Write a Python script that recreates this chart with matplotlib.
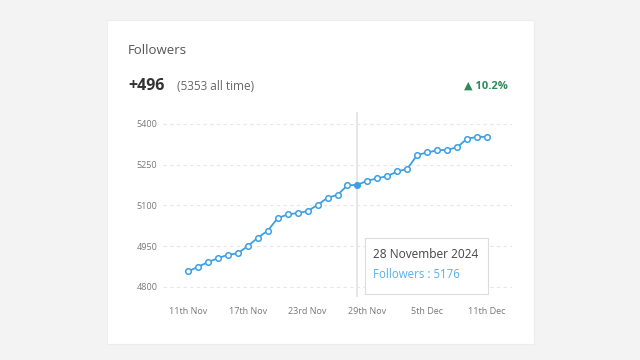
import numpy as np
import pandas as pd
from matplotlib import pyplot as plt
from matplotlib.patches import FancyBboxPatch

plt.rcParams['font.family'] = ['Open Sans', 'DejaVu Sans']

# Data (11 Nov - 11 Dec 2024)
dates = pd.date_range('2024-11-11', '2024-12-11', freq='D')
followers = [4857, 4874, 4891, 4906, 4918, 4924, 4950, 4981, 5007, 5053,
             5067, 5072, 5079, 5102, 5128, 5139, 5174, 5176, 5191, 5200,
             5208, 5225, 5235, 5286, 5295, 5303, 5305, 5314, 5346, 5352, 5353]
y_ticks = [4800, 4950, 5100, 5250, 5400]
x_tick_labels = ['11th Nov', '17th Nov', '23rd Nov', '29th Nov', '5th Dec', '11th Dec']
hover_idx = 17  # 28 November

days = np.arange(len(dates))
line_color = '#3d9fe3'

fig = plt.figure(figsize=(6.4, 3.6), dpi=100)
fig.patch.set_facecolor('#f3f3f3')

# white card
card = FancyBboxPatch((107 / 640, 1 - 344 / 360), 427 / 640, 324 / 360,
                      boxstyle='square,pad=0', transform=fig.transFigure,
                      facecolor='white', edgecolor='#ececec', lw=0.8, zorder=-5)
fig.patches.append(card)

fig.text(128 / 640, 1 - 50 / 360, 'Followers', fontsize=9.5, color='#555555', va='center')
fig.text(128 / 640, 1 - 86 / 360, '+496', fontsize=11.5, color='#333333',
         fontweight='bold', va='center')
fig.text(177 / 640, 1 - 86 / 360, '(5353 all time)', fontsize=8.5, color='#666666', va='center')
fig.text(508 / 640, 1 - 86 / 360, '▲ 10.2%', fontsize=8, color='#2e8a57',
         fontweight='bold', va='center', ha='right')

ax = fig.add_axes([163 / 640, 1 - 297 / 360, 349 / 640, 185 / 360])
ax.set_facecolor('none')
ax.plot(days, followers, color=line_color, lw=1.3, marker='o', ms=4,
        mfc='white', mec=line_color, mew=1.1, zorder=3)
ax.plot(days[hover_idx], followers[hover_idx], 'o', color=line_color, ms=3, zorder=4)
ax.axvline(days[hover_idx], color='#e2e2e2', lw=1.2, zorder=1)

ax.set_xlim(-2.5, 32.5)
ax.set_ylim(4763, 5444)
ax.set_yticks(y_ticks)
ax.set_xticks(days[::6])
ax.set_xticklabels(x_tick_labels)
ax.grid(axis='y', linestyle=(0, (3, 3)), color='#e6e6e6', lw=0.8)
ax.tick_params(length=0, labelsize=6.5, labelcolor='#777777')
ax.tick_params(axis='x', pad=7)
ax.tick_params(axis='y', pad=4)
for s in ax.spines.values():
    s.set_visible(False)

# tooltip
tip = FancyBboxPatch((365 / 640, 1 - 294 / 360), 123 / 640, 56 / 360,
                     boxstyle='square,pad=0', transform=fig.transFigure,
                     facecolor='white', edgecolor='#dcdcdc', lw=0.8, zorder=10)
fig.patches.append(tip)
fig.text(373 / 640, 1 - 255 / 360, '28 November 2024', fontsize=8.6, color='#444444',
         va='center', zorder=11)
fig.text(373 / 640, 1 - 274 / 360, 'Followers : %d' % followers[hover_idx], fontsize=8.3,
         color='#5aaeea', va='center', zorder=11)

plt.savefig('out.png', dpi=100, facecolor=fig.get_facecolor())
